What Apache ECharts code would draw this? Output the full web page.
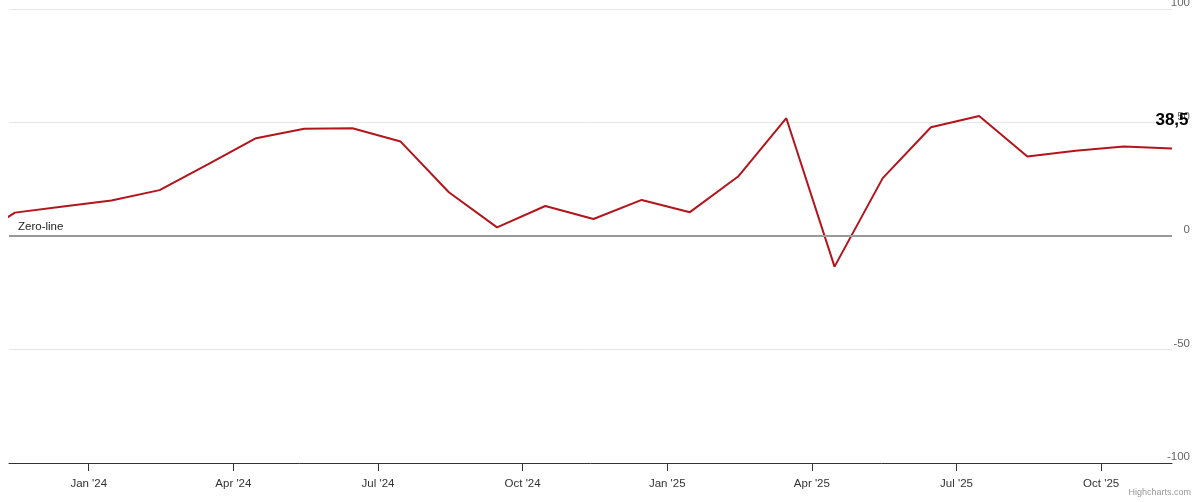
<!DOCTYPE html>
<html>
<head>
<meta charset="utf-8">
<script src="https://cdn.jsdelivr.net/npm/echarts@6/dist/echarts.min.js"></script>
<style>
  html, body { margin: 0; padding: 0; background: #fff; }
  #chart { width: 1200px; height: 502px; }
</style>
</head>
<body>
<div id="chart"></div>
<script>
// monthly readings, one per month (mid-month); the first one sits just left of the plot
const months = [
  '2023-10', '2023-11', '2023-12',
  '2024-01', '2024-02', '2024-03', '2024-04', '2024-05', '2024-06',
  '2024-07', '2024-08', '2024-09', '2024-10', '2024-11', '2024-12',
  '2025-01', '2025-02', '2025-03', '2025-04', '2025-05', '2025-06',
  '2025-07', '2025-08', '2025-09', '2025-10', '2025-11'
]
const values = [
  -3, 10.3, 13.0,
  15.6, 20.2, 31.6, 43.1, 47.2, 47.5,
  41.6, 19.3, 3.8, 13.2, 7.5, 15.9,
  10.5, 26.2, 51.9, -13.5, 25.5, 47.9,
  52.9, 35.0, 37.6, 39.4, 38.5
]
// x axis ticks, counted in months from Jan 2024
const tickMonths = [0, 3, 6, 9, 12, 15, 18, 21]
const tickLabels = ["Jan '24", "Apr '24", "Jul '24", "Oct '24", "Jan '25", "Apr '25", "Jul '25", "Oct '25"]
const yTicks = [-100, -50, 0, 50, 100]

const FONT = '"Liberation Sans", Arial, sans-serif'

// month string -> position on the x axis (months since Jan 2024, around mid-month)
const monthPos = (m) => {
  const [y, mo] = m.split('-').map(Number)
  return (y - 2024) * 12 + (mo - 1) + 0.47
}

const lastIdx = values.length - 1
const seriesData = values.map((v, i) => {
  const item = { value: [monthPos(months[i]), v] }
  if (i === lastIdx) {
    item.label = {
      show: true,
      position: 'top',
      distance: 20,
      color: '#000',
      fontWeight: 'bold',
      fontSize: 17,
      fontFamily: FONT,
      formatter: (p) => String(p.value[1]).replace('.', ',')
    }
  }
  return item
})

const chart = echarts.init(document.getElementById('chart'))
chart.setOption({
  animation: false,
  backgroundColor: '#fff',
  grid: { left: 9, right: 28, top: 9, bottom: 39, containLabel: false, outerBoundsMode: 'none' },
  xAxis: {
    type: 'value',
    min: monthPos(months[1]) - 0.124,
    max: monthPos(months[lastIdx]),
    axisLine: { onZero: false, lineStyle: { color: '#333', width: 1 } },
    axisTick: { show: true, length: 8, customValues: tickMonths, lineStyle: { color: '#333' } },
    axisLabel: {
      customValues: tickMonths,
      margin: 15,
      color: '#333',
      fontSize: 11.5,
      fontFamily: FONT,
      formatter: (v) => {
        const k = tickMonths.indexOf(Math.round(v))
        return k >= 0 ? tickLabels[k] : ''
      }
    },
    splitLine: { show: false }
  },
  yAxis: {
    type: 'value',
    position: 'right',
    min: yTicks[0],
    max: yTicks[yTicks.length - 1],
    interval: 50,
    axisLine: { show: false },
    axisTick: { show: false },
    axisLabel: {
      align: 'right',
      verticalAlign: 'bottom',
      margin: 18,
      color: '#666',
      fontSize: 11.5,
      fontFamily: FONT
    },
    splitLine: { lineStyle: { color: '#e6e6e6', width: 1 } }
  },
  series: [
    {
      type: 'line',
      data: seriesData,
      showSymbol: true,
      showAllSymbol: true,
      symbolSize: 0,
      lineStyle: { color: '#b2151c', width: 2 },
      itemStyle: { color: '#b2151c' },
      markLine: {
        silent: true,
        symbol: ['none', 'none'],
        lineStyle: { color: '#999', width: 2, type: 'solid' },
        label: {
          show: true,
          position: 'insideStartTop',
          distance: [9, 3],
          formatter: 'Zero-line',
          color: '#222',
          fontSize: 11.5,
          fontFamily: FONT
        },
        data: [{ yAxis: 0 }]
      }
    }
  ],
  graphic: [
    {
      type: 'text',
      right: 9,
      top: 488,
      style: { text: 'Highcharts.com', fill: '#999', font: '9px ' + FONT }
    }
  ]
})
</script>
</body>
</html>
